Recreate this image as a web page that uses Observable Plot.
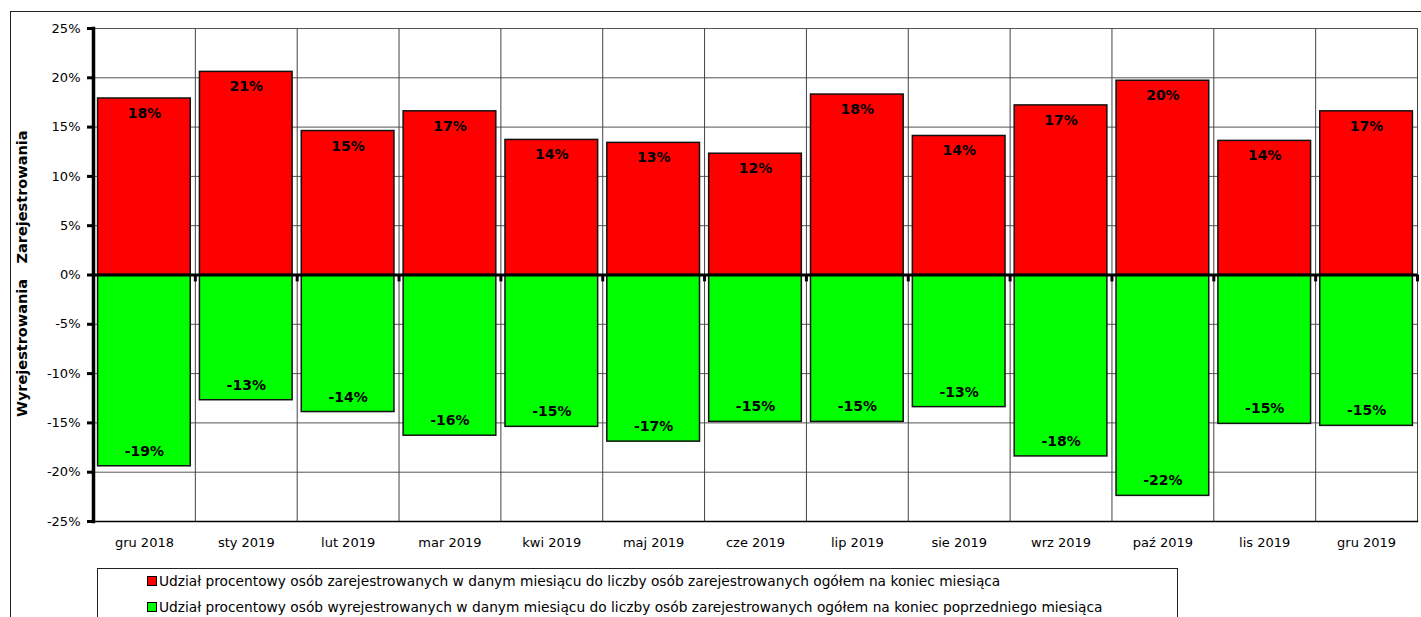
<!DOCTYPE html>
<html>
<head>
<meta charset="utf-8">
<script src="https://cdn.jsdelivr.net/npm/d3@7"></script>
<script src="https://cdn.jsdelivr.net/npm/@observablehq/plot@0.6"></script>
<style>
  html, body { margin: 0; padding: 0; background: #fff; overflow: hidden; }
  body { width: 1421px; height: 617px; position: relative; font-family: "DejaVu Sans", Verdana, sans-serif; }
  #frame { position: absolute; left: 10px; top: 11px; width: 1420px; height: 620px;
           border-top: 1.5px solid #222; border-left: 1.5px solid #222; pointer-events: none; }
  #chart { position: absolute; left: 0; top: 0; }
  .ytitle { position: absolute; font-weight: bold; font-size: 14.5px; color: #000;
            transform: translate(-50%, -50%) rotate(-90deg); white-space: nowrap; }
  #legend { position: absolute; left: 97px; top: 568px; width: 1081px; height: 60px;
            border: 1px solid #222; box-sizing: border-box; font-size: 13.75px; color: #000; }
  .lrow { position: absolute; left: 49px; display: flex; align-items: center; white-space: nowrap; line-height: 16px; }
  .sw { width: 8px; height: 8px; border: 1px solid #000; margin-right: 2px; }
</style>
</head>
<body>
<div id="chart"></div>
<div id="frame"></div>
<div class="ytitle" style="left:22px; top:197px;">Zarejestrowania</div>
<div class="ytitle" style="left:22px; top:348px;">Wyrejestrowania</div>
<div id="legend">
  <div class="lrow" style="top:4px;"><span class="sw" style="background:#ff0000"></span>Udział procentowy osób zarejestrowanych w danym miesiącu do liczby osób zarejestrowanych ogółem na koniec miesiąca</div>
  <div class="lrow" style="top:30px;"><span class="sw" style="background:#00ff00"></span>Udział procentowy osób wyrejestrowanych w danym miesiącu do liczby osób zarejestrowanych ogółem na koniec poprzedniego miesiąca</div>
</div>
<script>
const months = ["gru 2018", "sty 2019", "lut 2019", "mar 2019", "kwi 2019", "maj 2019", "cze 2019",
                "lip 2019", "sie 2019", "wrz 2019", "paź 2019", "lis 2019", "gru 2019"];
const registered = [17.9, 20.6, 14.6, 16.6, 13.7, 13.4, 12.3, 18.3, 14.1, 17.2, 19.7, 13.6, 16.6];
const deregistered = [-19.4, -12.7, -13.9, -16.3, -15.4, -16.9, -14.9, -14.9, -13.4, -18.4, -22.4, -15.1, -15.3];
const yTicks = [-25, -20, -15, -10, -5, 0, 5, 10, 15, 20, 25];

const reg = months.map((m, i) => ({month: m, value: registered[i]}));
const dereg = months.map((m, i) => ({month: m, value: deregistered[i]}));

const W = 1421, H = 560, ML = 93, MR = 4, MT = 28, MB = 39;
const step = (W - ML - MR) / months.length;
const fmt = v => Math.round(v) + "%";

const chart = Plot.plot({
  width: W, height: H,
  marginLeft: ML, marginRight: MR, marginTop: MT, marginBottom: MB,
  style: {fontFamily: "DejaVu Sans, Verdana, sans-serif", fontSize: "13px", color: "#000", background: "#fff"},
  x: {domain: months, paddingInner: 0.09, paddingOuter: 0.045, round: false, label: null},
  y: {domain: [-25, 25], label: null},
  marks: [
    Plot.gridY(yTicks, {stroke: "#555", strokeOpacity: 1, strokeWidth: 1}),
    Plot.ruleX(months, {x: d => d, dx: step / 2, stroke: "#444", strokeWidth: 1}),
    Plot.barY(reg, {x: "month", y: "value", fill: "#ff0000", stroke: "#111", strokeWidth: 1.5}),
    Plot.barY(dereg, {x: "month", y: "value", fill: "#00ff00", stroke: "#111", strokeWidth: 1.5}),
    Plot.text(reg, {x: "month", y: "value", text: d => fmt(d.value), dy: 15, fontWeight: "bold", fontSize: 14, fill: "#000"}),
    Plot.text(dereg, {x: "month", y: "value", text: d => fmt(d.value), dy: -15, fontWeight: "bold", fontSize: 14, fill: "#000"}),
    Plot.ruleY([0], {stroke: "#000", strokeWidth: 3}),
    Plot.ruleX(months, {x: d => d, dx: step / 2, y1: 0, y2: -0.7, stroke: "#000", strokeWidth: 3}),
    Plot.frame({anchor: "bottom", stroke: "#000", strokeWidth: 1.5}),
    Plot.frame({anchor: "left", stroke: "#000", strokeWidth: 3.5}),
    Plot.axisY({ticks: yTicks, tickFormat: d => d + "%", tickSize: 6, tickPadding: 7, strokeWidth: 3, fontSize: 13}),
    Plot.axisX({tickSize: 0, tickPadding: 16, fontSize: 13})
  ]
});
document.getElementById("chart").appendChild(chart);
</script>
</body>
</html>
